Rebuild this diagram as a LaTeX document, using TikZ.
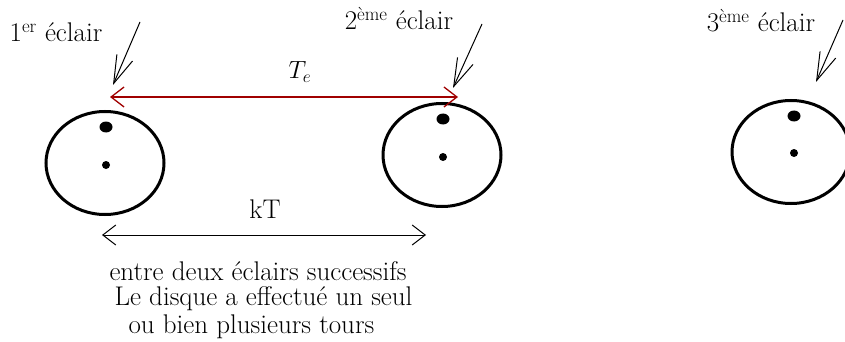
\documentclass[tikz,border=0pt]{standalone}
\usepackage{fontspec}
\usepackage{tikz}
\usetikzlibrary{arrows.meta,shapes.geometric}
\definecolor{tered}{RGB}{160,0,0}

\begin{document}
\begin{tikzpicture}[x=1pt,y=-1pt,>={Straight Barb[length=13pt,width=20pt]},
    every node/.style={font=\fontsize{27}{31}\selectfont},
    disk/.style={draw,ellipse,line width=3pt,minimum width=118pt,minimum height=103pt,inner sep=0pt},
    bigdot/.style={fill,ellipse,minimum width=13pt,minimum height=11pt,inner sep=0pt},
    smalldot/.style={fill,circle,minimum size=8pt,inner sep=0pt},
    flash/.style={line width=1pt,-{Straight Barb[length=28pt,width=17pt]}}]
                \useasboundingbox (0,0) rectangle (845,342);

                \node (l1) at (56,32) {1\textsuperscript{er} éclair};
                \node (l2) at (399,19) {2\textsuperscript{ème} éclair};
                \node (l3) at (761,21) {3\textsuperscript{ème} éclair};

                \coordinate (f1) at (140,22);
                \coordinate (t1) at (113,85);
                \coordinate (f2) at (482,24);
                \coordinate (t2) at (453,88);
                \coordinate (f3) at (843,20);
                \coordinate (t3) at (816,82);

                \draw[flash] (f1)--(t1);
                \draw[flash] (f2)--(t2);
                \draw[flash] (f3)--(t3);

                \node[disk] (d1) at (105,163) {};
                \node[disk] (d2) at (442,155) {};
                \node[disk] (d3) at (791,152) {};

                \node[bigdot] (b1) at (106,127) {};
                \node[smalldot] (s1) at (106,165) {};
                \node[bigdot] (b2) at (443,119) {};
                \node[smalldot] (s2) at (443,157) {};
                \node[bigdot] (b3) at (794,116) {};
                \node[smalldot] (s3) at (794,153) {};

                \coordinate (te1) at (110,97);
                \coordinate (te2) at (458,97);
                \draw[<->,tered,line width=1.3pt] (te1)--(te2);
                \node (te) at (300,72) {$T_e$};

                \coordinate (k1) at (102,235);
                \coordinate (k2) at (426,235);
                \draw[<->,line width=1pt] (k1)--(k2);
                \node (kt) at (265,209) {kT};

                \node[anchor=west] (n1) at (106,271) {entre deux éclairs successifs};
                \node[anchor=west] (n2) at (111,299) {Le disque a effectué un seul};
                \node[anchor=west] (n3) at (125,327) {ou bien plusieurs tours};
            \end{tikzpicture}
\end{document}
